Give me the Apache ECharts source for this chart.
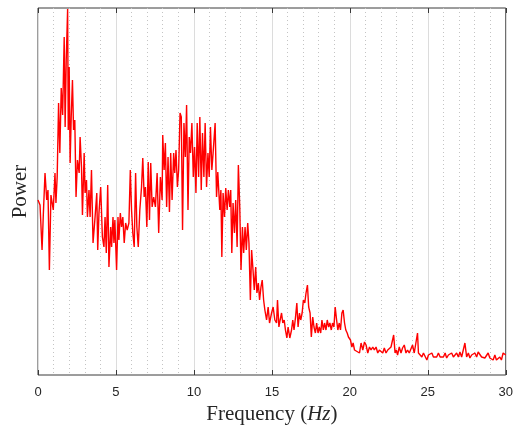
<!DOCTYPE html>
<html>
<head>
<meta charset="utf-8">
<script src="https://cdn.jsdelivr.net/npm/echarts@6/dist/echarts.min.js"></script>
<style>
  html, body { margin: 0; padding: 0; background: #fff; }
  #chart { width: 516px; height: 430px; }
</style>
</head>
<body>
<div id="chart"></div>
<script>
// Power spectrum, 0-30 Hz (arbitrary power units)
const freq = [
  0.00,0.13,0.26,0.34,0.45,0.56,0.64,0.73,0.83,0.89,0.98,1.09,1.15,1.23,1.32,1.40,1.49,1.58,1.68,1.74,
  1.81,1.90,1.94,2.00,2.06,2.13,2.21,2.28,2.36,2.44,2.53,2.64,2.70,2.79,2.85,2.96,3.02,3.11,3.17,3.27,
  3.34,3.43,3.53,3.66,3.77,3.83,3.91,4.02,4.13,4.23,4.30,4.38,4.47,4.55,4.66,4.72,4.81,4.87,4.93,5.04,
  5.13,5.19,5.28,5.36,5.44,5.53,5.62,5.72,5.83,5.92,6.00,6.08,6.17,6.26,6.34,6.43,6.53,6.64,6.72,6.81,
  6.89,6.98,7.07,7.15,7.23,7.32,7.42,7.53,7.64,7.74,7.85,7.96,8.00,8.09,8.17,8.25,8.34,8.43,8.51,8.60,
  8.70,8.77,8.85,8.94,9.02,9.11,9.19,9.27,9.36,9.45,9.53,9.62,9.70,9.78,9.87,9.96,10.04,10.13,10.21,10.30,
  10.38,10.47,10.55,10.64,10.72,10.81,10.90,10.98,11.06,11.15,11.23,11.36,11.45,11.53,11.66,11.73,11.79,11.87,11.96,12.04,
  12.13,12.21,12.30,12.36,12.43,12.51,12.60,12.68,12.77,12.85,12.94,13.02,13.11,13.19,13.28,13.36,13.45,13.53,13.62,13.70,
  13.79,13.87,13.96,14.04,14.13,14.21,14.30,14.38,14.47,14.55,14.66,14.76,14.85,14.98,15.08,15.19,15.30,15.36,15.45,15.53,
  15.62,15.70,15.79,15.87,15.96,16.04,16.15,16.26,16.34,16.42,16.51,16.60,16.68,16.77,16.85,16.94,17.02,17.11,17.19,17.28,
  17.36,17.45,17.53,17.62,17.70,17.79,17.87,17.96,18.04,18.13,18.21,18.30,18.38,18.47,18.55,18.64,18.72,18.81,18.89,18.98,
  19.06,19.15,19.23,19.32,19.40,19.49,19.57,19.66,19.74,19.83,19.91,20.04,20.13,20.21,20.30,20.38,20.62,20.72,20.83,20.94,
  21.04,21.15,21.26,21.36,21.47,21.57,21.68,21.79,21.89,22.00,22.11,22.21,22.32,22.43,22.53,22.64,22.70,22.81,22.90,22.98,
  23.06,23.17,23.28,23.38,23.49,23.60,23.70,23.81,23.91,24.02,24.13,24.23,24.34,24.40,24.51,24.62,24.72,24.83,24.94,25.04,
  25.15,25.26,25.36,25.47,25.57,25.68,25.79,25.89,26.00,26.11,26.21,26.32,26.43,26.53,26.64,26.74,26.85,26.96,27.06,27.17,
  27.28,27.38,27.49,27.60,27.70,27.81,27.91,28.02,28.13,28.23,28.34,28.45,28.55,28.66,28.77,28.87,28.98,29.09,29.19,29.30,
  29.40,29.51,29.62,29.72,29.83,29.91,30.00
];

const power = [
  175,170,125,160,202,175,185,105,180,182,165,202,172,198,272,222,287,260,338,248,
  315,366,245,308,212,258,295,245,255,178,215,202,238,208,160,222,182,195,158,185,
  158,205,132,158,182,125,162,188,138,128,158,122,190,108,148,128,158,132,155,105,
  158,135,162,148,158,132,152,145,152,205,165,142,128,202,148,128,165,188,217,178,
  188,148,213,155,212,168,178,168,202,142,198,175,240,205,232,168,218,163,222,175,
  222,202,225,188,205,262,258,145,252,218,270,165,238,222,252,198,228,182,252,198,
  258,185,242,198,252,188,222,198,248,205,222,252,178,203,165,185,118,182,158,187,
  165,185,168,185,122,172,142,175,128,210,168,105,148,122,148,125,152,132,75,125,
  105,85,108,82,92,75,88,95,75,65,55,68,52,62,68,55,52,75,48,55,
  62,52,55,45,37,48,37,45,55,45,57,72,48,62,55,62,75,72,82,90,
  68,62,38,58,48,42,52,42,48,42,55,45,52,45,55,48,52,45,52,48,
  68,55,45,52,45,62,65,52,45,42,38,35,28,32,25,23,22,32,25,33,
  30,22,28,25,28,25,28,22,25,23,22,27,22,25,23,28,27,40,22,25,
  20,28,22,27,30,22,25,22,23,30,22,20,42,22,23,18,22,20,15,20,
  18,22,18,20,18,22,18,20,18,22,17,20,18,22,18,17,22,18,23,18,
  20,32,18,22,17,20,18,22,18,23,25,18,20,17,18,22,17,18,15,20,
  15,13,18,15,22,23,20
];

const xTicks = [0, 5, 10, 15, 20, 25, 30];

const spectrum = freq.map((f, i) => [f, power[i]]);

const axisColor = '#3a3a3a';
const textColor = '#262626';
const chart = echarts.init(document.getElementById('chart'), null, { renderer: 'canvas' });

chart.setOption({
  animation: false,
  backgroundColor: '#ffffff',
  grid: {
    left: 38, right: 8, top: 8, bottom: 55,
    show: true, borderColor: axisColor, borderWidth: 1, backgroundColor: 'transparent'
  },
  xAxis: [
    {
      type: 'value',
      min: xTicks[0], max: xTicks[xTicks.length - 1], interval: 5,
      position: 'bottom',
      axisLine: { show: false },
      axisTick: { show: true, inside: true, length: 5, lineStyle: { color: axisColor } },
      axisLabel: {
        margin: 11, color: textColor, fontSize: 13, fontFamily: 'Liberation Sans'
      },
      splitLine: { show: true, lineStyle: { color: '#dcdcdc', width: 1 } },
      minorTick: { show: false, splitNumber: 5 },
      minorSplitLine: { show: true, lineStyle: { color: '#c4c4c4', type: [1, 3], width: 1 } },
      name: 'Frequency ({it|Hz})',
      nameLocation: 'middle',
      nameGap: 24,
      nameTextStyle: {
        fontFamily: 'Liberation Serif', fontSize: 21, color: textColor,
        rich: { it: { fontFamily: 'Liberation Serif', fontStyle: 'italic', fontSize: 21, color: textColor } }
      }
    },
    {
      type: 'value',
      min: xTicks[0], max: xTicks[xTicks.length - 1], interval: 5,
      position: 'top',
      axisLine: { show: false },
      axisTick: { show: true, inside: true, length: 5, lineStyle: { color: axisColor } },
      axisLabel: { show: false },
      splitLine: { show: false }
    }
  ],
  yAxis: {
    type: 'value',
    min: 0, max: 367,
    axisLine: { show: false },
    axisTick: { show: false },
    axisLabel: { show: false },
    splitLine: { show: false },
    name: 'Power',
    nameLocation: 'middle',
    nameGap: 7,
    nameRotate: 90,
    nameTextStyle: { fontFamily: 'Liberation Serif', fontSize: 21, color: textColor }
  },
  series: [
    {
      type: 'line',
      data: spectrum,
      xAxisIndex: 0,
      showSymbol: false,
      sampling: false,
      lineStyle: { color: '#ff0000', width: 1.4 },
      itemStyle: { color: '#ff0000' }
    }
  ]
});
</script>
</body>
</html>
